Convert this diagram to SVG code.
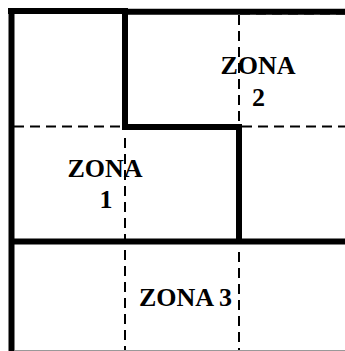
<svg xmlns="http://www.w3.org/2000/svg" width="345" height="351" viewBox="0 0 345 351">
<style>
.wall{stroke:#000;stroke-width:6;fill:none;stroke-linecap:butt}
.grid{stroke:#000;stroke-width:2;fill:none;stroke-dasharray:10 6}
.lbl{font-family:"Liberation Serif",serif;font-weight:bold;font-size:26px;fill:#000}
</style>
<rect width="345" height="351" fill="#fff"/>
<g id="grid">
<line class="grid" x1="240" y1="14.5" x2="345" y2="14.5" style="stroke:#777;stroke-width:1"/>
<line class="grid" x1="14" y1="126.5" x2="125" y2="126.5"/>
<line class="grid" x1="242" y1="126.5" x2="345" y2="126.5"/>
<line class="grid" x1="239" y1="15" x2="239" y2="124"/>
<line class="grid" x1="125" y1="138" x2="125" y2="351"/>
<line class="grid" x1="239" y1="252" x2="239" y2="351"/>
</g>
<g id="walls">
<line class="wall" x1="11.5" y1="8" x2="11.5" y2="351"/>
<line class="wall" x1="8" y1="11" x2="128" y2="11"/>
<line class="wall" x1="122" y1="11.8" x2="345" y2="11.8"/>
<line class="wall" x1="125" y1="8" x2="125" y2="130"/>
<line class="wall" x1="122" y1="127" x2="242" y2="127"/>
<line class="wall" x1="239" y1="124" x2="239" y2="244"/>
<line class="wall" x1="9" y1="241.5" x2="345" y2="241.5"/>
<line x1="15" y1="350.5" x2="345" y2="350.5" stroke="#999" stroke-width="1"/>
</g>
<g id="zone1">
<text class="lbl" x="105" y="177" text-anchor="middle">ZONA</text>
<text class="lbl" x="106" y="208" text-anchor="middle">1</text>
</g>
<g id="zone2">
<text class="lbl" x="258" y="74" text-anchor="middle">ZONA</text>
<text class="lbl" x="258.5" y="106" text-anchor="middle">2</text>
</g>
<g id="zone3">
<text class="lbl" x="185.5" y="306" text-anchor="middle">ZONA 3</text>
</g>
</svg>
